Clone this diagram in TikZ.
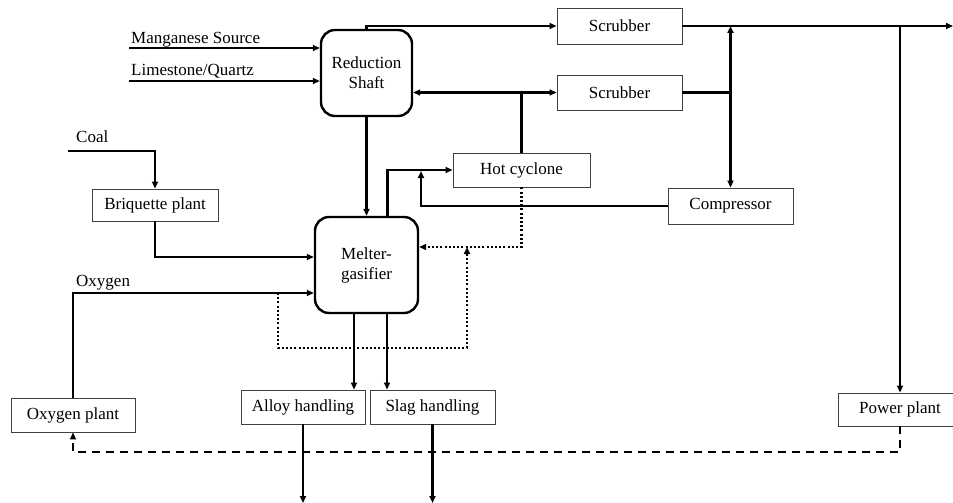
\documentclass[tikz,border=0pt]{standalone}
\usepackage{fontspec}
\setmainfont{Liberation Serif}
\usetikzlibrary{arrows.meta}
\begin{document}
\begin{tikzpicture}[x=1pt,y=-1pt,
  font=\fontsize{17}{20}\selectfont,
  flow/.style={line width=2.1pt,-{Triangle[length=7pt,width=6pt]}},
  dotflow/.style={flow,dash pattern=on 2pt off 2.2pt},
  dashflow/.style={flow,dash pattern=on 8pt off 6pt},
  unit/.style={draw=black!75,line width=0.9pt,rectangle,inner sep=0pt,
    minimum width=#1,minimum height=34pt},
  vessel/.style={draw,line width=2.4pt,rounded corners=14pt,inner sep=0pt,align=center},
  lbl/.style={anchor=base west,inner sep=0pt}]
\useasboundingbox (0,0) rectangle (953,503);

% process vessels
\node[vessel,minimum width=91pt,minimum height=86pt] (rs) at (366.5,73) {Reduction\\Shaft};
\node[vessel,minimum width=103pt,minimum height=96pt] (mg) at (366.5,265) {Melter-\\gasifier};

% auxiliary units
\node[unit=125pt,minimum height=36pt] (sc1) at (619.5,26) {Scrubber};
\node[unit=125pt,minimum height=35pt] (sc2) at (619.5,92.5) {Scrubber};
\node[unit=137pt] (hc) at (521.5,170) {Hot cyclone};
\node[unit=125pt,minimum height=36pt] (comp) at (730.5,206) {Compressor};
\node[unit=126pt,minimum height=32pt] (bp) at (155,205) {Briquette plant};
\node[unit=124pt] (op) at (73,415) {Oxygen plant};
\node[unit=124pt] (ah) at (303,407) {Alloy handling};
\node[unit=125pt] (sh) at (432.5,407) {Slag handling};
\node[unit=124pt,minimum height=33pt] (pp) at (900,409.5) {Power plant};

% feed labels
\node[lbl] (lmn) at (131,44) {Manganese Source};
\node[lbl] (lls) at (131,75) {Limestone/Quartz};
\node[lbl] (lcoal) at (76,142) {Coal};
\node[lbl] (lox) at (76,286) {Oxygen};

% free ends and junctions
\coordinate (mnin) at (129,48);
\coordinate (lsin) at (129,81);
\coordinate (coalin) at (68,151);
\coordinate (gasout) at (953,26);
\coordinate (cmpup) at (421,171);
\coordinate (dotj) at (467,247);
\coordinate (loopa) at (278,293);
\coordinate (loopb) at (278,348);
\coordinate (loopc) at (467,348);
\coordinate (dashj) at (73,452);
\coordinate (alout) at (303,503);
\coordinate (slout) at (432.5,503);

% raw material feeds
\draw[flow] (mnin) -- (rs.west |- mnin);
\draw[flow] (lsin) -- (rs.west |- lsin);
\draw[flow] (coalin) -| (bp.north);
\draw[flow] (bp.south) |- ([yshift=8pt]mg.west);
\draw[flow] (op.north) |- ([yshift=-28pt]mg.west);

% top gas
\draw[flow] (rs.north) |- (sc1.west);
\draw[flow] (sc1.east) -- (gasout);
\draw[flow] (pp.north |- sc1.east) -- (pp.north);

% export gas / recycle
\draw[flow] (sc2.east) -- (comp.north |- sc2.east) -- (comp.north |- sc1.east);
\draw[flow] (comp.north |- sc2.east) -- (comp.north);
\draw[flow] (comp.west) -| (cmpup);

% melter off-gas through hot cyclone
\draw[flow] ([xshift=21pt]mg.north) |- (hc.west);
\draw[flow] (hc.north) -- (hc.north |- sc2.west) -- (rs.east |- sc2.west);
\draw[flow] (hc.north |- sc2.west) -- (sc2.west);
\draw[flow] (rs.south) -- (mg.north);

% dust recycle
\draw[dotflow] (hc.south) |- (mg.east |- dotj);
\draw[dotflow] (loopa) -- (loopb) -- (loopc) -- (dotj);

% products
\draw[flow] ([xshift=-12.5pt]mg.south) -- ([xshift=-12.5pt]mg.south |- ah.north);
\draw[flow] ([xshift=20.5pt]mg.south) -- ([xshift=20.5pt]mg.south |- sh.north);
\draw[flow] (ah.south) -- (alout);
\draw[flow] (sh.south) -- (slout);

% power to oxygen plant
\draw[dashflow] (pp.south) |- (dashj) -- (op.south);
\end{tikzpicture}
\end{document}
